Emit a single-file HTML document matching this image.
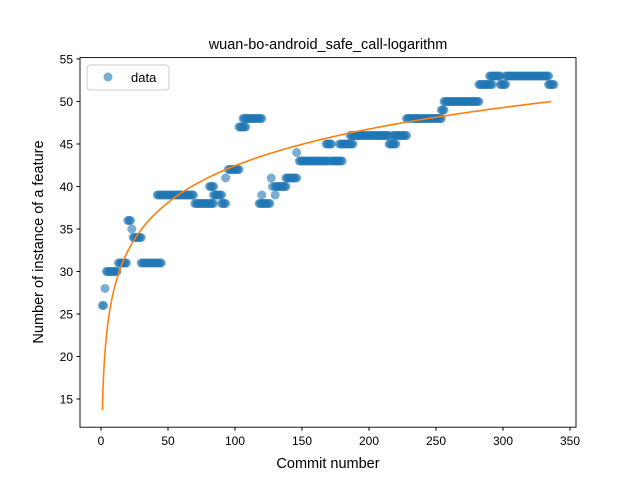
<!DOCTYPE html>
<html><head><meta charset="utf-8"><style>
body{margin:0;background:#fff}
text{font-family:"Liberation Sans","DejaVu Sans",sans-serif}
</style></head><body>
<svg id="chart" width="640" height="480" xmlns="http://www.w3.org/2000/svg">
<rect width="640" height="480" fill="#fff"/>
<text x="328" y="49" text-anchor="middle" font-size="14.5">wuan-bo-android_safe_call-logarithm</text>
<g id="pts"></g>
<path id="fit" fill="none" stroke="#ff7f0e" stroke-width="1.6"/>
<rect x="80" y="57.6" width="496" height="369.6" fill="none" stroke="#000" stroke-width="0.9"/>
<g id="axes"></g>
<text x="328" y="468" text-anchor="middle" font-size="14.5">Commit number</text>
<text transform="translate(43,242) rotate(-90)" text-anchor="middle" font-size="14.5">Number of instance of a feature</text>
<g>
<rect x="87" y="65" width="82" height="25" rx="3" fill="#fff" stroke="#ccc"/>
<circle cx="108" cy="77" r="4.5" fill="#1f77b4" fill-opacity="0.6"/>
<text x="131" y="82" font-size="13">data</text>
</g>
</svg>
<script>
const runStarts=[1,3,4,13,20,23,24,30,42,70,81,84,90,93,95,103,106,118,120,122,127,128,130,130,138,146,148,168,172,178,186,215,218,228,254,256,282,290,298,302,334];
const runEnds=[2,3,12,19,22,23,30,45,69,84,84,90,93,93,103,108,120,121,120,126,127,128,130,138,146,146,170,172,180,188,215,220,228,254,256,282,292,298,302,334,338];
const runValues=[26,28,30,31,36,35,34,31,39,38,40,39,38,41,42,47,48,38,39,38,41,40,39,40,41,44,43,45,43,45,46,45,46,48,49,50,52,53,52,53,52];
const fitA=13.7, fitB=6.24, fitMax=336;
const xTicks=[0,50,100,150,200,250,300,350];
const yTicks=[15,20,25,30,35,40,45,50,55];
const X=v=>101+v*1.34, Y=v=>399-(v-15)*8.5;
const NS="http://www.w3.org/2000/svg";
const pts=document.getElementById('pts');
for(let i=0;i<runStarts.length;i++){
 for(let x=runStarts[i];x<=runEnds[i];x++){
  const c=document.createElementNS(NS,'circle');
  
  
  c.setAttribute('cx',X(x));c.setAttribute('cy',Y(runValues[i]));c.setAttribute('r',4.5);
  c.setAttribute('fill','#1f77b4');c.setAttribute('fill-opacity','0.6');
  pts.appendChild(c);
 }
}
let d='';
for(let x=1;x<=fitMax;x+=0.5){d+=(d?'L':'M')+X(x).toFixed(2)+','+Y(fitA+fitB*Math.log(x)).toFixed(2);}
document.getElementById('fit').setAttribute('d',d);
const ax=document.getElementById('axes');
xTicks.forEach(t=>{
 const l=document.createElementNS(NS,'line');
 
 
 l.setAttribute('x1',X(t));l.setAttribute('x2',X(t));l.setAttribute('y1',427.2);l.setAttribute('y2',430.7);l.setAttribute('stroke','#000');
 ax.appendChild(l);
 const s=document.createElementNS(NS,'text');
 
 
 s.setAttribute('x',X(t));s.setAttribute('y',445);s.setAttribute('text-anchor','middle');s.setAttribute('font-size','12');
 s.textContent=t;ax.appendChild(s);
});
yTicks.forEach(t=>{
 const l=document.createElementNS(NS,'line');
 
 
 l.setAttribute('x1',76.5);l.setAttribute('x2',80);l.setAttribute('y1',Y(t));l.setAttribute('y2',Y(t));l.setAttribute('stroke','#000');
 ax.appendChild(l);
 const s=document.createElementNS(NS,'text');
 
 
 s.setAttribute('x',73);s.setAttribute('y',Y(t)+4.5);s.setAttribute('text-anchor','end');s.setAttribute('font-size','12');
 s.textContent=t;ax.appendChild(s);
});
</script>
</body></html>
